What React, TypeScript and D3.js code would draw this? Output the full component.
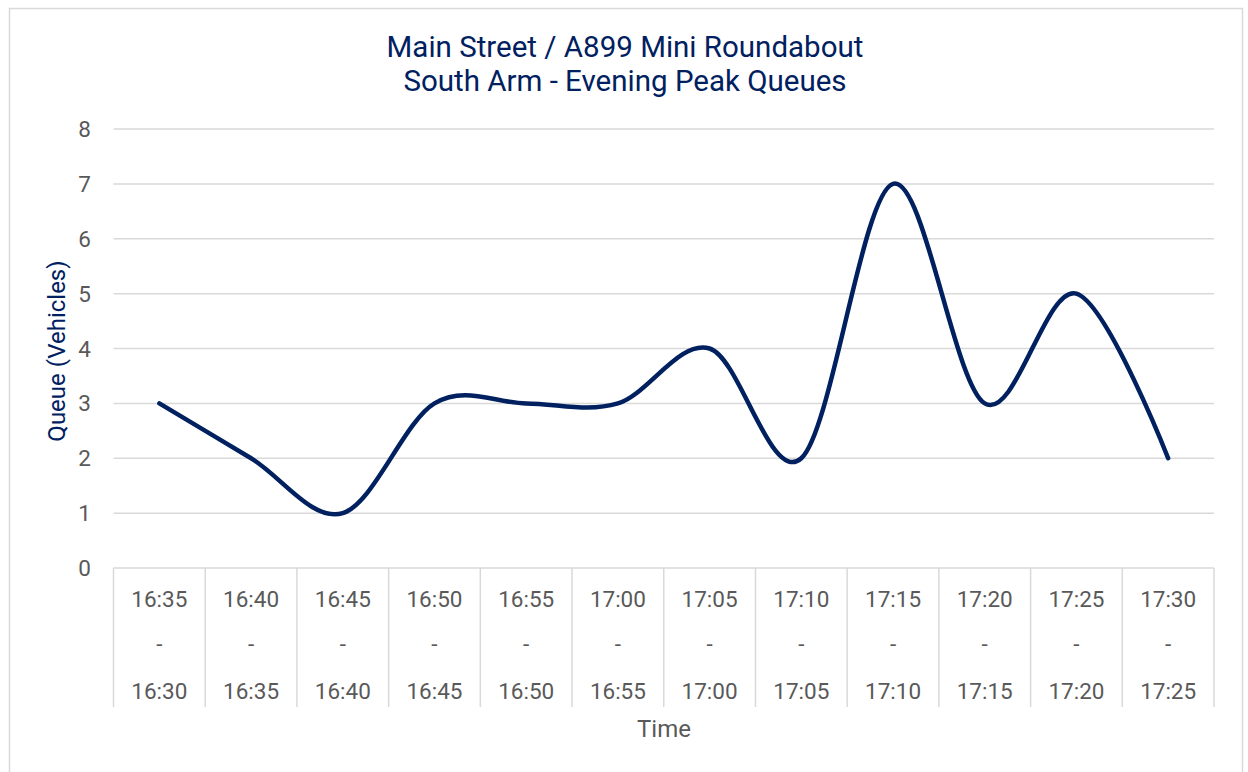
import React from "react";
import * as d3 from "d3";

const categoriesTop = ["16:35","16:40","16:45","16:50","16:55","17:00","17:05","17:10","17:15","17:20","17:25","17:30"];
const categoriesBottom = ["16:30","16:35","16:40","16:45","16:50","16:55","17:00","17:05","17:10","17:15","17:20","17:25"];
const queueValues = [3, 2, 1, 3, 3, 3, 4, 2, 7, 3, 5, 2];
const yTicks = [0, 1, 2, 3, 4, 5, 6, 7, 8];
const titleLines = ["Main Street / A899 Mini Roundabout", "South Arm - Evening Peak Queues"];

const W = 1248, H = 772;
const left = 113.5, right = 1214, top = 129, bottom = 568;
const navy = "#002060";
const gray = "#595959";
const gridC = "#d9d9d9";
const font = "Roboto, 'Noto Sans', sans-serif";

export default function App() {
  const x = d3.scaleBand().domain(categoriesTop.map((_, i) => String(i))).range([left, right]);
  const y = d3.scaleLinear().domain([0, 8]).range([bottom, top]);
  const line = d3.line<number>()
    .x((_, i) => (x(String(i)) as number) + x.bandwidth() / 2)
    .y((d) => y(d))
    .curve(d3.curveCatmullRom.alpha(0));
  return (
    <svg width={W} height={H} style={{ position: "absolute", left: 0, top: 0 }}>
      <rect x={0} y={0} width={W} height={H} fill="#fff" />
      <rect x={9.5} y={8.5} width={1233} height={780} fill="#fff" stroke={gridC} strokeWidth={1.5} />
      {titleLines.map((t, i) => (
        <text key={i} x={625} y={56.5 + i * 34.5} textAnchor="middle" fill={navy} fontFamily={font} fontSize={29.5}>{t}</text>
      ))}
      {yTicks.map((t) => (
        <g key={t}>
          <line x1={left} x2={right} y1={y(t)} y2={y(t)} stroke={gridC} strokeWidth={1.5} />
          <text x={91} y={y(t) + 8} textAnchor="end" fill={gray} fontFamily={font} fontSize={22.5}>{t}</text>
        </g>
      ))}
      {d3.range(categoriesTop.length + 1).map((i) => {
        const xx = left + i * x.bandwidth();
        return <line key={i} x1={xx} x2={xx} y1={bottom} y2={707} stroke={gridC} strokeWidth={1.5} />;
      })}
      {categoriesTop.map((c, i) => {
        const cx = (x(String(i)) as number) + x.bandwidth() / 2;
        return (
          <g key={i} fill={gray} fontFamily={font} fontSize={22.5} textAnchor="middle">
            <text x={cx} y={606.5}>{c}</text>
            <text x={cx} y={652}>-</text>
            <text x={cx} y={698.5}>{categoriesBottom[i]}</text>
          </g>
        );
      })}
      <path d={line(queueValues) || ""} fill="none" stroke={navy} strokeWidth={4.5} strokeLinecap="round" strokeLinejoin="round" />
      <text transform={`translate(65,351) rotate(-90)`} textAnchor="middle" fill={navy} fontFamily={font} fontSize={24}>Queue (Vehicles)</text>
      <text x={664} y={737} textAnchor="middle" fill={gray} fontFamily={font} fontSize={24}>Time</text>
    </svg>
  );
}
